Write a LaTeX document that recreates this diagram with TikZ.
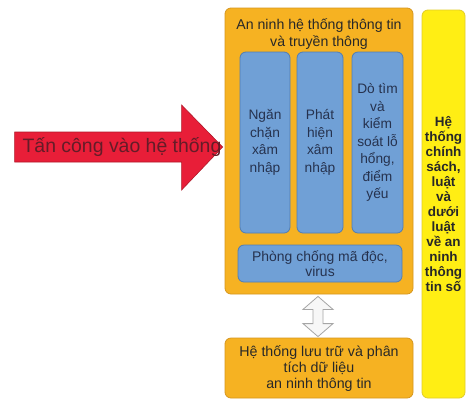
\documentclass[tikz,border=0pt]{standalone}
\usepackage{fontspec}
\setmainfont{Liberation Sans}
\usetikzlibrary{calc}
\definecolor{orangebox}{RGB}{246,178,34}
\definecolor{orangeedge}{RGB}{214,150,30}
\definecolor{bluebox}{RGB}{112,160,214}
\definecolor{blueedge}{RGB}{80,125,180}
\definecolor{yellowbox}{RGB}{255,238,20}
\definecolor{yellowedge}{RGB}{225,205,40}
\definecolor{redarrow}{RGB}{232,30,56}
\definecolor{rededge}{RGB}{176,24,40}
\definecolor{txt}{RGB}{40,40,40}
\definecolor{bluetxt}{RGB}{38,50,78}
\definecolor{redtxt}{RGB}{100,28,40}
\begin{document}
\begin{tikzpicture}[x=1bp,y=-1bp,
  orangestyle/.style={draw=orangeedge, fill=orangebox, rounded corners=6bp, line width=0.8bp, inner sep=0pt},
  bluestyle/.style={draw=blueedge, fill=bluebox, rounded corners=6bp, line width=0.8bp, inner sep=0pt, text=bluetxt, align=center, font=\fontsize{13.8}{17.5}\selectfont},
  yellowstyle/.style={draw=yellowedge, fill=yellowbox, rounded corners=6bp, line width=0.8bp, inner sep=0pt, text=txt, align=center, font=\fontsize{13.5}{15}\selectfont\bfseries},
  labeltext/.style={text=txt, align=center, inner sep=0pt},
  dblarrow/.style={draw=gray!70, fill=gray!6, line width=0.8bp, line join=miter},
  redarrowstyle/.style={draw=rededge, fill=redarrow, line width=0.6bp, line join=miter}
]
\useasboundingbox (0,0) rectangle (468,402);
\fill[white] (0,0) rectangle (468,402);

% main orange box
\node[orangestyle, minimum width=188bp, minimum height=286bp] (main) at (319,151) {};
\node[labeltext, font=\fontsize{14.2}{18}\selectfont] (title) at (319,34) {An ninh hệ thống thông tin\\và truyền thông};

% blue columns
\node[bluestyle, minimum width=50bp, minimum height=181bp] (c1) at (265,142.5) {Ngăn\\chặn\\xâm\\nhập};
\node[bluestyle, minimum width=46bp, minimum height=181bp] (c2) at (320,142.5) {Phát\\hiện\\xâm\\nhập};
\node[bluestyle, minimum width=51bp, minimum height=181bp] (c3) at (377.5,142.5) {Dò tìm\\và\\kiểm\\soát lỗ\\hổng,\\điểm\\yếu};

% phong chong box
\node[bluestyle, minimum width=164bp, minimum height=37bp, font=\fontsize{14}{15}\selectfont] (phong) at (320,263.5) {Phòng chống mã độc,\\virus};

% bottom storage box
\node[orangestyle, minimum width=188bp, minimum height=60bp] (store) at (319,368) {};
\node[labeltext, font=\fontsize{14.3}{16.5}\selectfont] (storetext) at (319,368.5) {Hệ thống lưu trữ và phân\\tích dữ liệu\\an ninh thông tin};

% yellow policy box
\node[yellowstyle, minimum width=43bp, minimum height=388bp] (policy) at (443.5,204) {Hệ\\thống\\chính\\sách,\\luật\\và\\dưới\\luật\\về an\\ninh\\thông\\tin số};

% double arrow between main and store
\coordinate (dtop) at ($(main.south)+(-1,2)$);
\coordinate (dbot) at ($(store.north)+(-1,-1)$);
\draw[dblarrow] (dtop) -- ++(15,13) -- ++(-10,0) -- ($(dbot)+(5,-13)$) -- ++(10,0) -- (dbot) -- ++(-15,-13) -- ++(10,0) -- ($(dtop)+(-5,13)$) -- ++(-10,0) -- cycle;

% red attack arrow
\coordinate (tip) at ($(main.west)+(-2,-4)$);
\draw[redarrowstyle] (tip) -- ++(-41,-42) -- ++(0,27) -- ++(-167,0) -- ++(0,30) -- ++(167,0) -- ++(0,28) -- cycle;
\node[inner sep=0pt, text=redtxt, font=\fontsize{19.5}{20}\selectfont] (attack) at (122,147) {Tấn công vào hệ thống};
\end{tikzpicture}
\end{document}
